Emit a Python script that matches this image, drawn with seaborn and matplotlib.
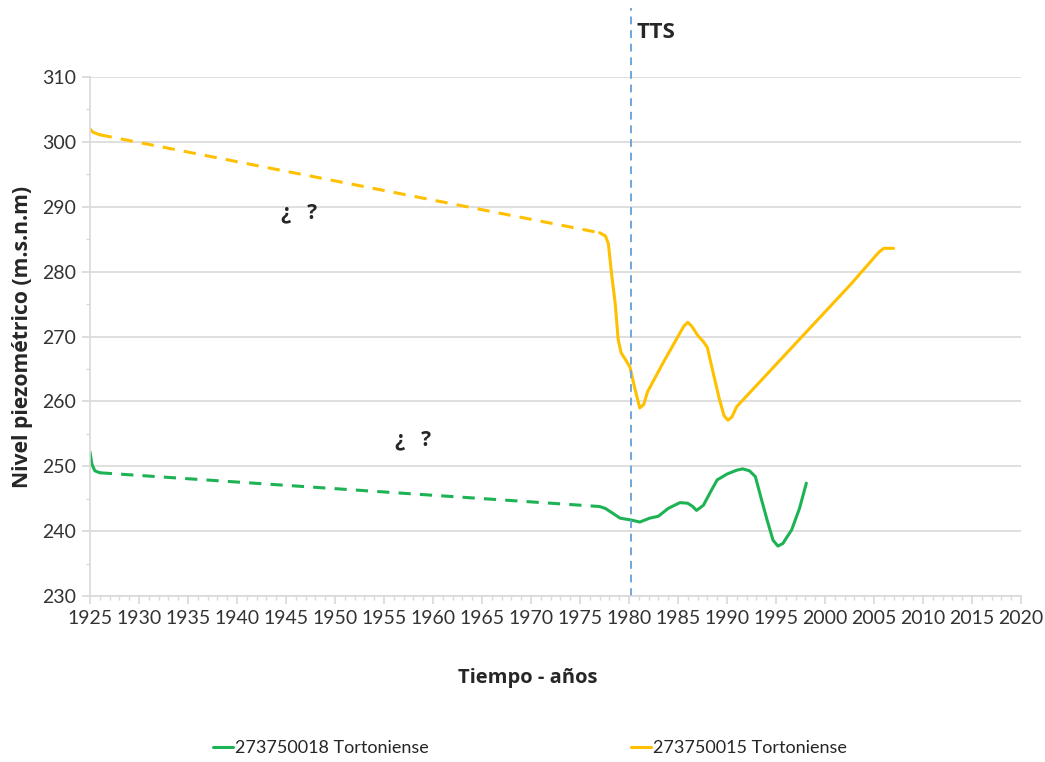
import matplotlib
matplotlib.use('Agg')
import matplotlib.pyplot as plt
from matplotlib.ticker import MultipleLocator
import seaborn as sns
import pandas as pd

# 273750015 Tortoniense (yellow)
years_015 = [1925.0, 1925.3, 1926.0, 1977.0, 1977.6, 1977.9, 1978.2, 1978.6, 1978.9,
             1979.2, 1979.7, 1980.1, 1980.6, 1981.1, 1981.5, 1981.9, 1983.5, 1985.0,
             1985.6, 1986.0, 1986.4, 1987.0, 1987.6, 1988.0, 1988.5, 1989.2, 1989.7,
             1990.1, 1990.5, 1991.0, 2002.6, 2005.5, 2006.0, 2007.0]
level_015 = [302.0, 301.5, 301.1, 286.0, 285.5, 284.3, 280.0, 275.0, 269.5,
             267.5, 266.3, 265.3, 262.0, 259.0, 259.5, 261.5, 266.0, 270.0,
             271.6, 272.2, 271.6, 270.2, 269.2, 268.3, 265.0, 260.5, 257.8,
             257.1, 257.6, 259.2, 278.0, 283.0, 283.6, 283.6]

# 273750018 Tortoniense (green)
years_018 = [1925.0, 1925.2, 1925.5, 1926.0, 1977.0, 1977.6, 1978.3, 1979.1, 1980.3,
             1981.1, 1982.1, 1983.0, 1984.0, 1985.2, 1986.0, 1986.5, 1986.9, 1987.6,
             1988.3, 1989.0, 1990.0, 1991.0, 1991.6, 1992.3, 1992.9, 1993.5, 1994.1,
             1994.7, 1995.2, 1995.7, 1996.6, 1997.4, 1998.1]
level_018 = [252.2, 250.3, 249.3, 249.0, 243.8, 243.5, 242.8, 242.0, 241.7,
             241.4, 242.0, 242.3, 243.5, 244.4, 244.3, 243.8, 243.2, 244.0,
             246.0, 247.9, 248.8, 249.4, 249.6, 249.3, 248.4, 245.0, 241.7,
             238.6, 237.7, 238.1, 240.2, 243.5, 247.4]

# gap with no measurements (drawn dashed) between these years
gap_start, gap_end = 1926.0, 1977.0
tts_year = 1980.2

green = '#1DB354'
yellow = '#FFC000'

sns.set_theme(style='white')
plt.rcParams['font.family'] = ['Lato', 'DejaVu Sans']

fig = plt.figure(figsize=(10.45, 7.62), dpi=100)
ax = fig.add_axes([0.0861, 0.2178, 0.8909, 0.6811])

series = [
    ('273750018 Tortoniense', years_018, level_018, green),
    ('273750015 Tortoniense', years_015, level_015, yellow),
]
for name, yrs, lev, col in series:
    df = pd.DataFrame({'year': yrs, 'level': lev})
    before = df[df.year <= gap_start]
    gap = df[(df.year >= gap_start) & (df.year <= gap_end)]
    after = df[df.year >= gap_end]
    sns.lineplot(data=before, x='year', y='level', color=col, lw=2.2, ax=ax, sort=False)
    sns.lineplot(data=gap, x='year', y='level', color=col, lw=2.2, ax=ax, sort=False,
                 linestyle=(0, (4, 3)))
    sns.lineplot(data=after, x='year', y='level', color=col, lw=2.2, ax=ax, sort=False,
                 label=name)

ax.axvline(tts_year, ymin=0, ymax=1.133, color='#6FA6DC', lw=1.4,
           linestyle=(0, (4, 3)), clip_on=False)
ax.text(tts_year + 0.6, 316.9, 'TTS', fontsize=16, fontweight='bold',
        family='Open Sans', ha='left', va='center')
ax.text(1946.3, 289.0, '¿   ?', fontsize=15, fontweight='bold', family='Open Sans',
        ha='center', va='center')
ax.text(1958.0, 254.0, '¿   ?', fontsize=15, fontweight='bold', family='Open Sans',
        ha='center', va='center')

ax.set_xlim(1925, 2020)
ax.set_ylim(230, 310)
ax.xaxis.set_major_locator(MultipleLocator(5))
ax.xaxis.set_minor_locator(MultipleLocator(1))
ax.yaxis.set_major_locator(MultipleLocator(10))
ax.yaxis.set_minor_locator(MultipleLocator(5))
ax.grid(axis='y', which='major', color='#D9D9D9', lw=1.2)
ax.grid(axis='x', visible=False)
for s in ['top', 'right']:
    ax.spines[s].set_visible(False)
for s in ['left', 'bottom']:
    ax.spines[s].set_color('#D9D9D9')
    ax.spines[s].set_linewidth(1.2)
ax.tick_params(which='major', direction='out', length=6, color='#D9D9D9',
               labelsize=14, labelcolor='#333333', left=True, bottom=True, pad=4)
ax.tick_params(which='minor', direction='out', length=3, color='#D9D9D9',
               left=True, bottom=True)

ax.set_xlabel('Tiempo - años', fontsize=14.5, fontweight='bold', family='Open Sans')
ax.xaxis.set_label_coords(0.47, -0.139)
ax.set_ylabel('Nivel piezométrico (m.s.n.m)', fontsize=15.2, fontweight='bold',
              family='Open Sans', va='center')
ax.yaxis.set_label_coords(-0.073, 0.5)

ax.get_legend().remove()
handles, labels = ax.get_legend_handles_labels()
fig.legend(handles, labels, loc='center', bbox_to_anchor=(530 / 1045, 1 - 748 / 762),
           ncol=2, frameon=False, fontsize=13, handlelength=1.1, handletextpad=0.1,
           columnspacing=11.2, labelcolor='#262626')

fig.savefig('out.png', dpi=100)
